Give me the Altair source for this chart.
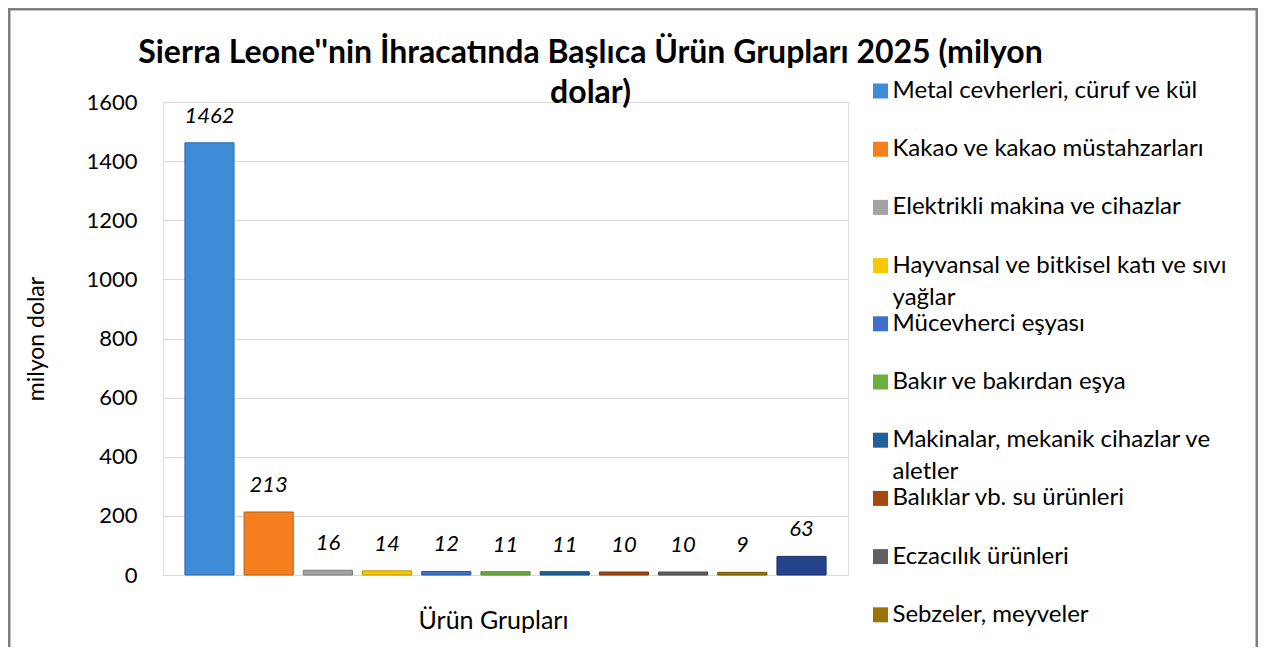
import altair as alt
import pandas as pd

categories = [
    "Metal cevherleri, cüruf ve kül",
    "Kakao ve kakao müstahzarları",
    "Elektrikli makina ve cihazlar",
    "Hayvansal ve bitkisel katı ve sıvı yağlar",
    "Mücevherci eşyası",
    "Bakır ve bakırdan eşya",
    "Makinalar, mekanik cihazlar ve aletler",
    "Balıklar vb. su ürünleri",
    "Eczacılık ürünleri",
    "Sebzeler, meyveler",
    "Diğer",
]
values = [1462, 213, 16, 14, 12, 11, 11, 10, 10, 9, 63]
fill_colors = ["#3E8BD8", "#F57F1E", "#A3A3A3", "#F7CA00", "#3D6FCB", "#6AAE3D",
               "#22609A", "#A4480F", "#606060", "#9A7406", "#24438A"]
stroke_colors = ["#2E6AA8", "#B85A10", "#7A7A7A", "#B89500", "#2C5299", "#4E8530",
                 "#174670", "#76330A", "#444444", "#6E5304", "#182F63"]
wrapped = {
    "Hayvansal ve bitkisel katı ve sıvı yağlar": ["Hayvansal ve bitkisel katı ve sıvı", "yağlar"],
    "Makinalar, mekanik cihazlar ve aletler": ["Makinalar, mekanik cihazlar ve", "aletler"],
}
legend_shown = categories[:10]
y_ticks = [0, 200, 400, 600, 800, 1000, 1200, 1400, 1600]
title_lines = ["Sierra Leone''nin İhracatında Başlıca Ürün Grupları 2025 (milyon", "dolar)"]

df = pd.DataFrame({"cat": categories, "val": values})

label_expr = ""
for k, (a, b) in wrapped.items():
    label_expr += f"datum.label == '{k}' ? ['{a}', '{b}'] : "
label_expr += "[datum.label, '']"

FONT = "Lato"

x_enc = alt.X("cat:N", sort=categories,
              scale=alt.Scale(paddingInner=0.17, paddingOuter=0.37),
              axis=alt.Axis(labels=False, ticks=False, domain=False, title="Ürün Grupları",
                            titleFont=FONT, titleFontSize=25, titleFontWeight="normal",
                            titleColor="#000000", titleX=330, titleY=45,
                            titleBaseline="middle", titleAlign="center"))
y_enc = alt.Y("val:Q", scale=alt.Scale(domain=[0, 1600], nice=False),
              axis=alt.Axis(values=y_ticks, format="d", grid=True, gridColor="#D9D9D9",
                            gridWidth=1.2, domain=False, ticks=False, tickSize=0,
                            labelPadding=26, labelFont=FONT, labelFontSize=22,
                            labelColor="#000000",
                            title="milyon dolar", titleFont=FONT, titleFontSize=23,
                            titleFontWeight="normal", titleColor="#000000",
                            titleX=-127, titleY=236.5, titleAngle=-90,
                            titleAlign="center", titleBaseline="middle"))

bars = alt.Chart(df).mark_bar(strokeWidth=1).encode(
    x=x_enc,
    y=y_enc,
    color=alt.Color("cat:N", sort=categories,
                    scale=alt.Scale(domain=categories, range=fill_colors),
                    legend=alt.Legend(title=None, orient="none", legendX=705.5, legendY=-23,
                                      values=legend_shown,
                                      symbolType="square", symbolSize=225, symbolStrokeWidth=0,
                                      labelFont=FONT, labelFontSize=24, labelColor="#000000",
                                      labelLimit=600, labelOffset=0, rowPadding=2.2,
                                      padding=0, labelExpr=label_expr)),
    stroke=alt.Stroke("cat:N", sort=categories,
                      scale=alt.Scale(domain=categories, range=stroke_colors), legend=None),
)

labels = alt.Chart(df).mark_text(font=FONT, fontSize=22, fontStyle="italic", color="#000000",
                                 baseline="middle", dy=-27).encode(
    x=alt.X("cat:N", sort=categories),
    y=alt.Y("val:Q"),
    text=alt.Text("val:Q"),
)

frame = alt.Chart(pd.DataFrame({"f": [0]})).mark_rect(
    fill=None, stroke="#7F7F7F", strokeWidth=3, clip=False).encode(
    x=alt.value(-154), x2=alt.value(1094), y=alt.value(-93), y2=alt.value(570))

chart = alt.layer(bars, labels, frame).properties(
    width=685, height=473,
    title=alt.TitleParams(title_lines, font=FONT, fontSize=32, fontWeight="bold",
                          color="#000000", anchor="middle", dx=85, offset=-134,
                          baseline="bottom", lineHeight=40),
    padding={"left": 155, "top": 94, "right": 410, "bottom": 72},
    autosize=alt.AutoSizeParams(type="none"),
).configure_view(stroke=None).configure(
    background="#FFFFFF",
    style={"guide-label": {"lineHeight": 32}},
)

chart.save("out.html", embed_options={"renderer": "svg", "actions": False})
